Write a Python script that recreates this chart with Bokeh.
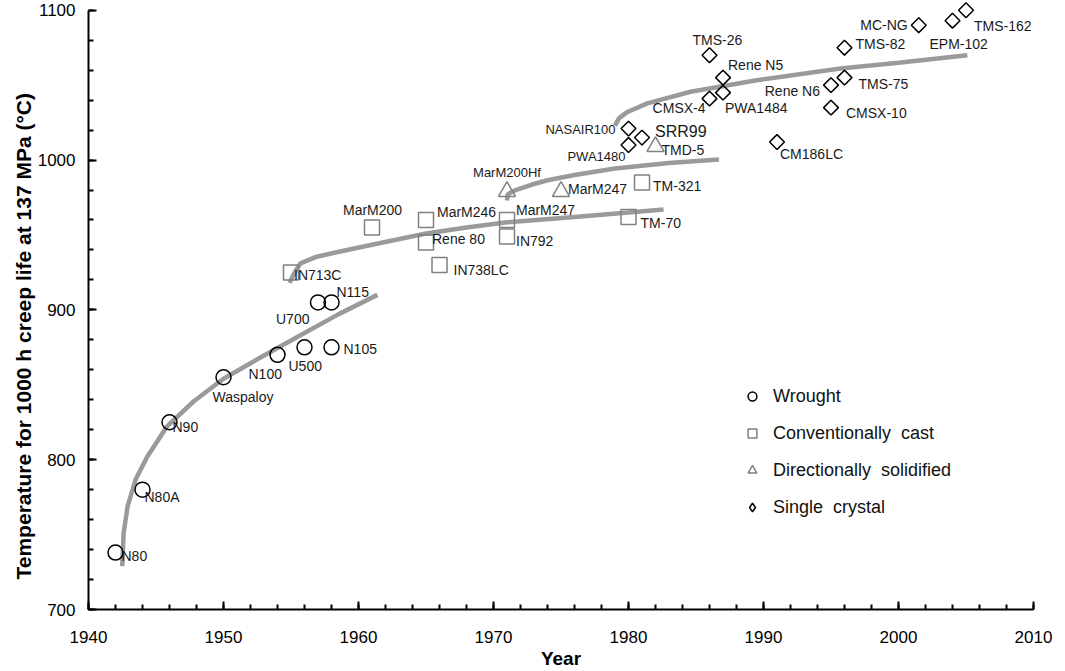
import math
from bokeh.plotting import figure
from bokeh.models import (ColumnDataSource, Range1d, FixedTicker, Legend,
                          LegendItem, Title)
from bokeh.core.properties import value, field
from bokeh.embed import file_html
from bokeh.resources import INLINE

FONT = "Liberation Sans"

# ------------------------------------------------------------------ data
wrought_names = ["N80", "N80A", "N90", "Waspaloy", "N100", "U500", "N105", "U700", "N115"]
wrought_year = [1942, 1944, 1946, 1950, 1954, 1956, 1958, 1957, 1958]
wrought_temp = [738, 780, 825, 855, 870, 875, 875, 905, 905]

cast_names = ["IN713C", "MarM200", "MarM246", "Rene 80", "IN738LC", "MarM247", "IN792", "TM-70", "TM-321"]
cast_year = [1955, 1961, 1965, 1965, 1966, 1971, 1971, 1980, 1981]
cast_temp = [925, 955, 960, 945, 930, 960, 949, 962, 985]

ds_names = ["MarM200Hf", "MarM247 ", "TMD-5"]
ds_year = [1971, 1975, 1982]
ds_temp = [979, 979, 1009]

sc_names = ["NASAIR100", "PWA1480", "SRR99", "TMS-26", "Rene N5", "PWA1484", "CMSX-4",
            "CM186LC", "Rene N6", "TMS-75", "CMSX-10", "TMS-82", "MC-NG", "EPM-102", "TMS-162"]
sc_year = [1980, 1980, 1981, 1986, 1987, 1987, 1986, 1991, 1995, 1996, 1995, 1996, 2001.5, 2004, 2005]
sc_temp = [1021, 1010, 1015, 1070, 1055, 1045, 1041, 1012, 1050, 1055, 1035, 1075, 1090, 1093, 1100]

# trend curves
curve_wrought_year = [1942.5, 1942.6, 1942.9, 1943.5, 1944.35, 1945.8, 1947.8, 1950.0, 1952.5, 1955.7, 1958.5, 1961.4]
curve_wrought_temp = [729, 751, 769, 787, 802, 822, 839, 854, 867, 883, 897, 910]

curve_cast_year = [1954.9, 1955.1, 1955.4, 1955.7, 1956.9, 1958.9, 1961, 1965, 1968, 1971, 1976, 1980, 1982.6]
curve_cast_temp = [918, 922, 927, 931, 935.5, 939.5, 943.5, 951, 955, 958.5, 962, 965, 967]

curve_ds_year = [1971.0, 1971.05, 1971.4, 1971.8, 1972.8, 1974, 1976, 1979, 1983, 1986.7]
curve_ds_temp = [973, 977, 979, 980.5, 983.5, 986.5, 990, 994.4, 998, 1000.4]

curve_sc_year = [1979.0, 1979.3, 1979.9, 1981.4, 1984.6, 1989.5, 1995.7, 2000, 2005.1]
curve_sc_temp = [1023, 1028, 1032, 1037.8, 1045.6, 1053.3, 1061.1, 1065, 1070]

legend_labels = ["Wrought", "Conventionally  cast", "Directionally  solidified", "Single  crystal"]

y_title = "Temperature for 1000 h creep life at 137 MPa (\u00b0C)"
x_title = "Year"

year_ticks = [1940, 1950, 1960, 1970, 1980, 1990, 2000, 2010]
year_minor = [1940, 1942, 1944, 1946, 1948, 1950, 1952, 1954, 1956, 1958, 1960, 1962, 1964,
              1966, 1968, 1970, 1972, 1974, 1976, 1978, 1980, 1982, 1984, 1986, 1988, 1990,
              1992, 1994, 1996, 1998, 2000, 2002, 2004, 2006, 2008, 2010]
temp_ticks = [700, 800, 900, 1000, 1100]
temp_minor = [700, 720, 740, 760, 780, 800, 820, 840, 860, 880, 900, 920, 940, 960, 980,
              1000, 1020, 1040, 1060, 1080, 1100]

# ------------------------------------------------ label placement (px)
# name: (dx, dy, align, font size)
label_layout = {
    "N80": (6, 3, "left", "14px"), "N80A": (2, 7, "left", "14px"),
    "N90": (3, 5, "left", "14px"), "Waspaloy": (-11, 20, "left", "14px"),
    "N100": (-29, 19, "left", "14px"), "U500": (-16, 19, "left", "14px"),
    "N105": (12, 2, "left", "14px"), "U700": (-42, 17, "left", "14px"),
    "N115": (5, -10, "left", "14px"),
    "IN713C": (3, 3, "left", "14px"), "MarM200": (-29, -17, "left", "14px"),
    "MarM246": (11, -8, "left", "14px"), "Rene 80": (6, -3, "left", "14px"),
    "IN738LC": (14, 5, "left", "14px"), "MarM247": (9, -10, "left", "14px"),
    "IN792": (9, 5, "left", "14px"), "TM-70": (12, 6, "left", "14px"),
    "TM-321": (11, 3, "left", "14px"),
    "MarM200Hf": (0, -19, "center", "13px"), "MarM247 ": (7, -3, "left", "14px"),
    "TMD-5": (6, 3, "left", "14px"),
    "NASAIR100": (-13, 1, "right", "13px"), "PWA1480": (-3, 11, "right", "13px"),
    "SRR99": (13, -6, "left", "16px"), "TMS-26": (-17, -15, "left", "14px"),
    "Rene N5": (5, -13, "left", "14px"), "PWA1484": (2, 15, "left", "14px"),
    "CMSX-4": (-4, 9, "right", "14px"), "CM186LC": (3, 12, "left", "14px"),
    "Rene N6": (-11, 6, "right", "14px"), "TMS-75": (14, 6, "left", "14px"),
    "CMSX-10": (15, 5, "left", "14px"), "TMS-82": (11, -4, "left", "14px"),
    "MC-NG": (-11, 0, "right", "14px"), "EPM-102": (-23, 23, "left", "14px"),
    "TMS-162": (8, 16, "left", "14px"),
}


def make_source(names, xs, ys):
    return ColumnDataSource(dict(
        name=names, x=xs, y=ys,
        dx=[label_layout[n][0] for n in names],
        dy=[label_layout[n][1] for n in names],
        align=[label_layout[n][2] for n in names],
        size=[label_layout[n][3] for n in names],
    ))


p = figure(width=1058, height=671, output_backend="svg", toolbar_location=None,
           x_range=Range1d(1940, 2010), y_range=Range1d(700, 1106.5),
           min_border_left=88, min_border_right=25, min_border_top=0,
           min_border_bottom=61)
p.outline_line_color = None
p.xgrid.visible = False
p.ygrid.visible = False
p.background_fill_color = "white"

# axes
for ax in (p.xaxis[0], p.yaxis[0]):
    ax.axis_line_width = 2
    ax.axis_line_color = "black"
    ax.major_tick_line_width = 2
    ax.minor_tick_line_width = 2
    ax.major_tick_line_color = "black"
    ax.minor_tick_line_color = "black"
    ax.major_tick_in = 8
    ax.major_tick_out = 0
    ax.minor_tick_in = 5
    ax.minor_tick_out = 0
    ax.major_label_text_font = FONT
    ax.major_label_text_font_size = "17px"
    ax.major_label_text_color = "black"

p.xaxis.ticker = FixedTicker(ticks=year_ticks, minor_ticks=year_minor)
p.yaxis.ticker = FixedTicker(ticks=temp_ticks, minor_ticks=temp_minor)
p.yaxis.bounds = (700, 1100)
p.xaxis.major_label_standoff = 21
p.yaxis.major_label_standoff = 13
p.xaxis.axis_label = x_title
p.xaxis.axis_label_text_font = FONT
p.xaxis.axis_label_text_font_size = "19px"
p.xaxis.axis_label_text_font_style = "bold"
p.xaxis.axis_label_text_color = "black"
p.xaxis.axis_label_standoff = 2

ytitle = Title(text=y_title, align="left", offset=30, text_font=FONT,
               text_font_size="21px", text_font_style="bold", text_color="black",
               standoff=0)
p.add_layout(ytitle, "left")

# curves
CURVE = "#9a9a9a"
for cx, cy in ((curve_wrought_year, curve_wrought_temp), (curve_cast_year, curve_cast_temp),
               (curve_ds_year, curve_ds_temp), (curve_sc_year, curve_sc_temp)):
    p.line(cx, cy, line_color=CURVE, line_width=4.5)

src_w = make_source(wrought_names, wrought_year, wrought_temp)
src_c = make_source(cast_names, cast_year, cast_temp)
src_d = make_source(ds_names, ds_year, ds_temp)
src_s = make_source(sc_names, sc_year, sc_temp)

r_w = p.scatter("x", "y", source=src_w, marker="circle", size=15, fill_color=None,
                line_color="black", line_width=1.5)
r_c = p.scatter("x", "y", source=src_c, marker="square", size=15, fill_color=None,
                line_color="#808080", line_width=1.5)
r_d = p.scatter("x", "y", source=src_d, marker="triangle", size=17, fill_color=None,
                line_color="#808080", line_width=1.5)
r_s = p.scatter("x", "y", source=src_s, marker="square", angle=math.pi / 4, size=10.5,
                fill_color=None, line_color="black", line_width=1.5)
# legend-only glyph for the diamond symbol (size 0 on the plot; legend sets its own size)
r_s_leg = p.scatter("x", "y", source=src_s, marker="diamond", size=0, fill_color=None,
                    line_color="black", line_width=1.5)

for src in (src_w, src_c, src_d, src_s):
    p.text("x", "y", text="name", source=src, x_offset=field("dx"), y_offset=field("dy"),
           text_align=field("align"), text_baseline="middle",
           text_font=value(FONT), text_font_size=field("size"), text_color="#1a1a1a")

legend = Legend(items=[LegendItem(label=legend_labels[0], renderers=[r_w]),
                       LegendItem(label=legend_labels[1], renderers=[r_c]),
                       LegendItem(label=legend_labels[2], renderers=[r_d]),
                       LegendItem(label=legend_labels[3], renderers=[r_s_leg])],
                location=(653, 91), padding=0, margin=0, spacing=15,
                glyph_width=22, glyph_height=22, label_height=22, label_standoff=10,
                label_text_font=FONT, label_text_font_size="18px",
                label_text_color="#111111", border_line_color=None,
                background_fill_alpha=0)
p.add_layout(legend, "center")

open("out.html", "w").write(file_html(p, INLINE))
